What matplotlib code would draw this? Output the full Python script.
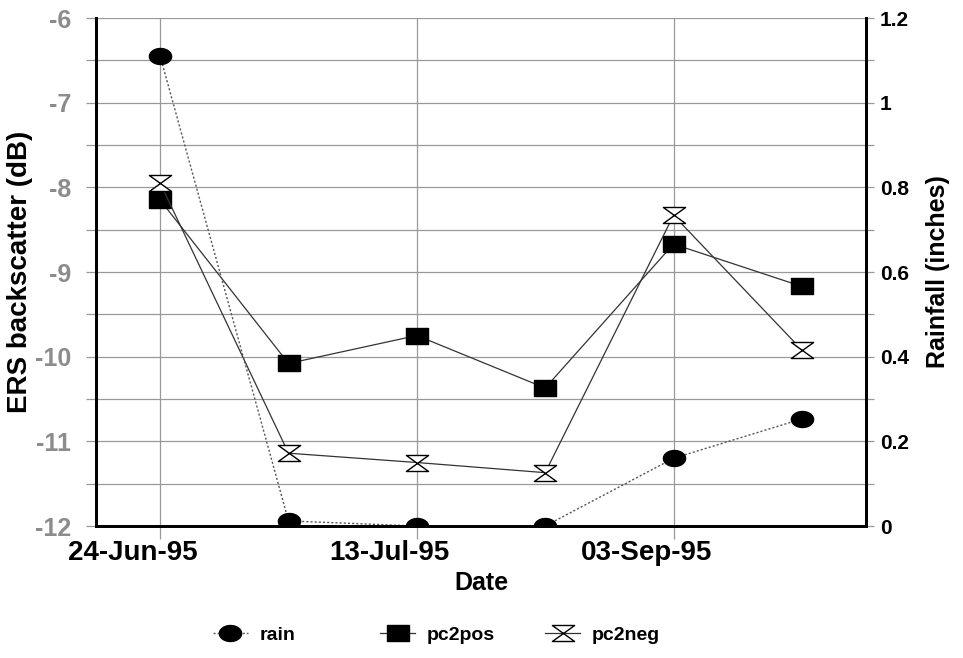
import matplotlib
matplotlib.use("Agg")
import numpy as np
import matplotlib.pyplot as plt
from matplotlib.ticker import MultipleLocator, FixedLocator
from matplotlib.transforms import ScaledTranslation
from matplotlib.path import Path

plt.rcParams['font.family'] = ['Liberation Sans', 'DejaVu Sans']
plt.rcParams['font.weight'] = 'bold'
plt.rcParams['axes.unicode_minus'] = False

x = [0, 1, 2, 3, 4, 5]
tick_pos = [0, 2, 4]
tick_labels = ['24-Jun-95', '13-Jul-95', '03-Sep-95']
rain = [1.11, 0.012, 0.0, 0.0, 0.16, 0.253]
pc2pos = [-8.15, -10.08, -9.75, -10.37, -8.67, -9.17]
pc2neg = [-7.95, -11.14, -11.25, -11.37, -8.33, -9.92]
rain_ticks = [0, 0.2, 0.4, 0.6, 0.8, 1.0, 1.2]
rain_tick_labels = ['0', '0.2', '0.4', '0.6', '0.8', '1', '1.2']

# wide, flat marker shapes like the original
h = 0.72
t = np.linspace(0, 2 * np.pi, 40)
ellipse = Path(np.column_stack([np.cos(t), h * np.sin(t)]), closed=True)
rect = Path([(-1, -h), (1, -h), (1, h), (-1, h), (-1, -h)], closed=True)
hourglass = Path([(-1, h), (1, h), (-1, -h), (1, -h), (-1, h)], closed=True)

fig = plt.figure(figsize=(9.63, 6.58), dpi=100)
ax = fig.add_axes([0.0997, 0.2006, 0.7996, 0.772])
ax2 = ax.twinx()

ax.set_xlim(-0.5, 5.5)
ax.set_ylim(-12, -6)
ax2.set_ylim(0, 1.2)

ax.yaxis.set_major_locator(MultipleLocator(1))
ax.yaxis.set_minor_locator(MultipleLocator(0.5))
ax.grid(which='both', axis='y', color='#999999', lw=0.9)
ax.set_xticks(tick_pos)
ax.set_xticklabels(tick_labels)
ax.grid(axis='x', color='#999999', lw=0.9)
ax.set_axisbelow(True)

l1, = ax.plot(x, pc2pos, color='#333333', lw=0.9, marker=rect, ms=16,
              mfc='black', mec='black', label='pc2pos')
l2, = ax.plot(x, pc2neg, color='#333333', lw=0.9, marker=hourglass, ms=16,
              mfc='white', mec='black', mew=1.0, label='pc2neg')
l3, = ax2.plot(x, rain, color='#555555', lw=1.0, ls=(0, (1.5, 1.5)),
               marker=ellipse, ms=16, mfc='black', mec='black', label='rain')

ax.tick_params(axis='y', which='both', labelsize=18, labelcolor='#8c8c8c',
               color='#999999', length=7, width=0.9, pad=11)
ax.tick_params(axis='x', labelsize=20, labelcolor='black', length=9,
               color='#999999', width=0.9, pad=1)
# the date labels sit a little left of their ticks in the original
shift = ScaledTranslation(-27 / 100, 0, fig.dpi_scale_trans)
for lbl in ax.get_xticklabels():
    lbl.set_transform(lbl.get_transform() + shift)

ax2.yaxis.set_major_locator(FixedLocator(rain_ticks))
ax2.yaxis.set_minor_locator(MultipleLocator(0.1))
ax2.set_yticklabels(rain_tick_labels)
ax2.tick_params(axis='y', labelsize=15, length=6, width=0.9, color='#999999', pad=4)
ax2.tick_params(axis='y', which='minor', length=6, width=0.9, color='#999999')

for s in ['left', 'bottom', 'right']:
    ax.spines[s].set_linewidth(2)
    ax2.spines[s].set_linewidth(2)
ax.spines['top'].set_visible(False)
ax2.spines['top'].set_visible(False)

ax.set_xlabel('Date', fontsize=18, fontweight='heavy', labelpad=4)
ax.set_ylabel('ERS backscatter (dB)', fontsize=20, fontweight='bold', labelpad=1)
ax2.set_ylabel('Rainfall (inches)', fontsize=18, fontweight='bold', labelpad=12)

for line, name, xpos in [(l3, 'rain', 0.221), (l1, 'pc2pos', 0.395), (l2, 'pc2neg', 0.566)]:
    fig.legend([line], [name], loc='center left', bbox_to_anchor=(xpos, 0.035),
               frameon=False, fontsize=14, handlelength=1.8, handletextpad=0.6,
               borderpad=0, borderaxespad=0)

fig.savefig('out.png', dpi=100)
